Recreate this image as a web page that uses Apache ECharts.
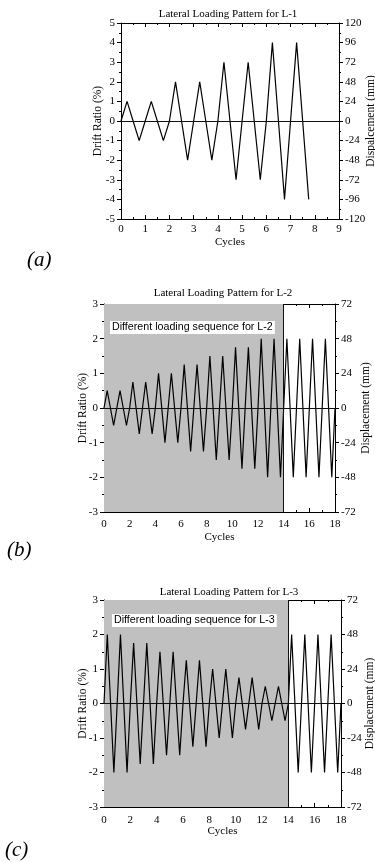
<!DOCTYPE html>
<html>
<head>
<meta charset="utf-8">
<script src="https://cdn.jsdelivr.net/npm/echarts@6/dist/echarts.min.js"></script>
<style>
  html, body { margin: 0; padding: 0; background: #fff; }
  #main { width: 375px; height: 862px; }
</style>
</head>
<body>
<div id="main"></div>
<script>
// amplitude of each loading cycle (drift ratio, %)
var ampA = [1, 1, 2, 2, 3, 3, 4, 4]
var ampB = [0.5, 0.5, 0.75, 0.75, 1, 1, 1.25, 1.25, 1.5, 1.5, 1.75, 1.75, 2, 2, 2, 2, 2, 2]
var ampC = [2, 2, 1.75, 1.75, 1.5, 1.5, 1.25, 1.25, 1, 1, 0.75, 0.75, 0.5, 0.5, 2, 2, 2, 2]
var titles = ['Lateral Loading Pattern for L-1', 'Lateral Loading Pattern for L-2', 'Lateral Loading Pattern for L-3']
var boxTexts = ['Different loading sequence for L-2', 'Different loading sequence for L-3']
var panelTags = ['(a)', '(b)', '(c)']

// each cycle: 0 -> +A -> 0 -> -A -> 0
function zigzag(amps, lastFull) {
    var pts = [[0, 0]]
    amps.forEach(function (a, i) {
        pts.push([i + 0.25, a], [i + 0.5, 0], [i + 0.75, -a])
        if (i < amps.length - 1 || lastFull) pts.push([i + 1, 0])
    })
    return pts
}

var serif = 'Liberation Serif'
var black = '#000'

function xAxes(gi, max, step, labelMargin, nameGap) {
    return [
        {
            gridIndex: gi, type: 'value', min: 0, max: max, interval: step,
            name: 'Cycles', nameLocation: 'middle', nameGap: nameGap, nameMoveOverlap: false,
            nameTextStyle: { fontFamily: serif, fontSize: 11, color: black },
            axisLine: { onZero: false, lineStyle: { color: black, width: 1 } },
            axisTick: { inside: true, length: 4, lineStyle: { color: black } },
            minorTick: { show: true, splitNumber: 2, length: 2, lineStyle: { color: black } },
            axisLabel: { fontFamily: serif, fontSize: 11, color: black, margin: labelMargin },
            splitLine: { show: false },
        },
        {
            gridIndex: gi, type: 'value', min: 0, max: max, interval: step, position: 'top',
            axisLine: { onZero: false, lineStyle: { color: black, width: 1 } },
            axisTick: { inside: true, length: 4, lineStyle: { color: black } },
            minorTick: { show: true, splitNumber: 2, length: 2, lineStyle: { color: black } },
            axisLabel: { show: false },
            splitLine: { show: false },
        },
    ]
}

function yAxes(gi, lim, rlim, rname, gapL, gapR) {
    return [
        {
            gridIndex: gi, type: 'value', min: -lim, max: lim, interval: 1,
            name: 'Drift Ratio (%)', nameLocation: 'middle', nameGap: gapL, nameMoveOverlap: false,
            nameTextStyle: { fontFamily: serif, fontSize: 11.5, color: black },
            axisLine: { show: true, onZero: false, lineStyle: { color: black, width: 1 } },
            axisTick: { show: true, length: 4, lineStyle: { color: black } },
            minorTick: { show: true, splitNumber: 2, length: 2, lineStyle: { color: black } },
            axisLabel: { fontFamily: serif, fontSize: 11, color: black, margin: 6 },
            splitLine: { show: false },
        },
        {
            gridIndex: gi, type: 'value', min: -rlim, max: rlim, interval: 24, position: 'right',
            name: rname, nameLocation: 'middle', nameGap: gapR, nameRotate: 90, nameMoveOverlap: false,
            nameTextStyle: { fontFamily: serif, fontSize: 11.5, color: black },
            axisLine: { show: true, onZero: false, lineStyle: { color: black, width: 1 } },
            axisTick: { show: true, length: 4, lineStyle: { color: black } },
            minorTick: { show: true, splitNumber: 2, length: 2, lineStyle: { color: black } },
            axisLabel: { fontFamily: serif, fontSize: 11, color: black, margin: 6 },
            splitLine: { show: false },
        },
    ]
}

function lineSeries(idx, data, shaded) {
    var marks = [{ yAxis: 0 }]
    if (shaded) marks.push({ xAxis: 14 })
    var s = {
        type: 'line', xAxisIndex: idx * 2, yAxisIndex: idx * 2, data: data,
        showSymbol: false, symbol: 'none', animation: false,
        lineStyle: { color: black, width: 1.2 },
        markLine: {
            silent: true, symbol: 'none', label: { show: false },
            lineStyle: { color: '#111', width: 1, type: 'solid' },
            data: marks,
        },
    }
    if (shaded) {
        s.markArea = {
            silent: true,
            itemStyle: { color: '#c0c0c0' },
            data: [[{ xAxis: 0 }, { xAxis: 14 }]],
        }
    }
    return s
}

var chart = echarts.init(document.getElementById('main'))
var option = {
    backgroundColor: '#fff',
    animation: false,
    title: [
        { text: titles[0], left: 228, top: 9, textAlign: 'center', padding: 0, textStyle: { fontFamily: serif, fontSize: 11, fontWeight: 'normal', color: black } },
        { text: titles[1], left: 223, top: 288, textAlign: 'center', padding: 0, textStyle: { fontFamily: serif, fontSize: 11, fontWeight: 'normal', color: black } },
        { text: titles[2], left: 229, top: 587, textAlign: 'center', padding: 0, textStyle: { fontFamily: serif, fontSize: 11, fontWeight: 'normal', color: black } },
        { text: boxTexts[0], left: 110, top: 321, padding: [1, 2], backgroundColor: '#fff', textStyle: { fontFamily: 'Liberation Sans', fontSize: 10.7, fontWeight: 'normal', color: black } },
        { text: boxTexts[1], left: 112, top: 614, padding: [1, 2], backgroundColor: '#fff', textStyle: { fontFamily: 'Liberation Sans', fontSize: 10.7, fontWeight: 'normal', color: black } },
        { text: panelTags[0], left: 27, top: 250, padding: 0, textStyle: { fontFamily: serif, fontSize: 21, fontStyle: 'italic', fontWeight: 'normal', color: black } },
        { text: panelTags[1], left: 7, top: 540, padding: 0, textStyle: { fontFamily: serif, fontSize: 21, fontStyle: 'italic', fontWeight: 'normal', color: black } },
        { text: panelTags[2], left: 5, top: 840, padding: 0, textStyle: { fontFamily: serif, fontSize: 21, fontStyle: 'italic', fontWeight: 'normal', color: black } },
    ],
    grid: [
        { left: 121, top: 23, width: 218, height: 196, outerBoundsMode: 'none' },
        { left: 104, top: 304, width: 231, height: 208, outerBoundsMode: 'none' },
        { left: 104, top: 600, width: 237, height: 207, outerBoundsMode: 'none' },
    ],
    xAxis: [].concat(
        xAxes(0, 9, 1, 5, 18),
        xAxes(1, 18, 2, 7, 20),
        xAxes(2, 18, 2, 8, 19)
    ),
    yAxis: [].concat(
        yAxes(0, 5, 120, 'Dispalcement (mm)', 17, 26),
        yAxes(1, 3, 72, 'Displacement (mm)', 15, 25),
        yAxes(2, 3, 72, 'Displacement (mm)', 15, 23)
    ),
    series: [
        lineSeries(0, zigzag(ampA, false), false),
        lineSeries(1, zigzag(ampB, true), true),
        lineSeries(2, zigzag(ampC, true), true),
    ],
}
chart.setOption(option)
</script>
</body>
</html>
